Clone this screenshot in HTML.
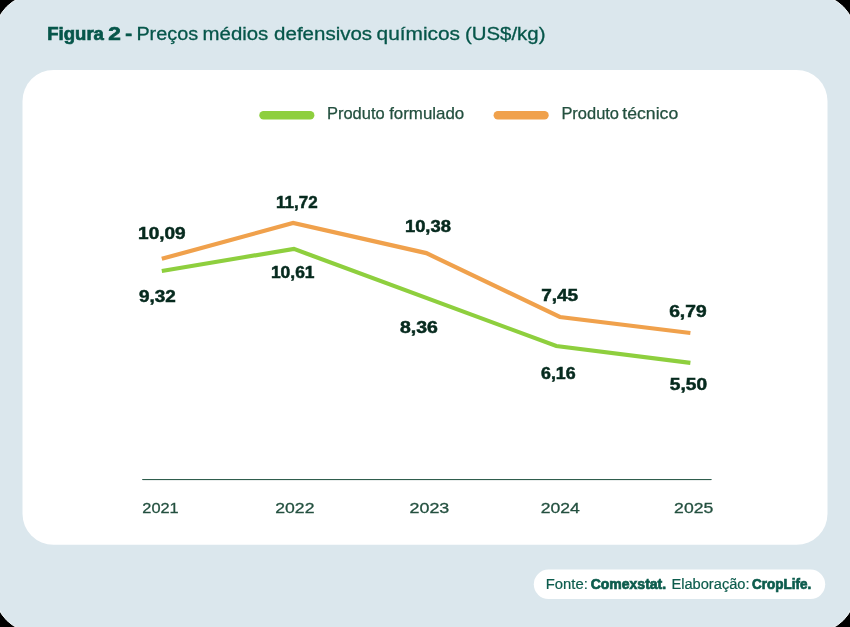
<!DOCTYPE html>
<html><head><meta charset="utf-8">
<style>
html,body{margin:0;padding:0;background:#dbe7ed;}
body{width:850px;height:627px;overflow:hidden;font-family:"Liberation Sans",sans-serif;}
svg{display:block;will-change:transform;}
text{font-family:"Liberation Sans",sans-serif;}
.v{font-weight:bold;font-size:16.4px;fill:#062a1e;stroke:#062a1e;stroke-width:0.5px;}
.y{font-size:15.5px;fill:#23503f;stroke:#23503f;stroke-width:0.3px;}
.l{font-size:15.7px;fill:#23503f;stroke:#23503f;stroke-width:0.25px;}
.t{font-size:18.8px;fill:#06564a;stroke:#06564a;stroke-width:0.3px;}
.f{font-size:14.0px;fill:#0d5c4d;stroke:#0d5c4d;stroke-width:0.2px;}
.b{font-weight:bold;}
.t.b{stroke:#06564a;stroke-width:0.7px;}
.f.b{stroke:#0d5c4d;stroke-width:0.7px;}
</style></head>
<body>
<svg width="850" height="627" viewBox="0 0 850 627">
<rect x="0" y="0" width="850" height="627" fill="#000"/>
<rect x="-5.0" y="-5.0" width="860" height="637" rx="40" ry="40" fill="#dbe7ed" stroke="#f2f7f9" stroke-width="1"/>
<rect x="22.5" y="70" width="805" height="474.8" rx="31" ry="31" fill="#ffffff"/>
<rect x="259.3" y="110.9" width="55.1" height="8.5" rx="4.25" fill="#8ecf3e"/>
<rect x="493.6" y="110.9" width="55.1" height="8.5" rx="4.25" fill="#f0a14c"/>
<polyline points="161.8,271.0 293.9,248.9 556.3,346.0 690.4,362.9" fill="none" stroke="#8ecf3e" stroke-width="4.2" stroke-linejoin="miter"/>
<polyline points="161.8,258.8 293.1,223 426.3,253.1 559.9,317.0 690.4,333.0" fill="none" stroke="#f0a14c" stroke-width="4.2" stroke-linejoin="miter"/>
<rect x="142.2" y="479" width="569.4" height="1" fill="#2f5d4d"/>
<rect x="142.6" y="480" width="568.6" height="1" fill="#2f5d4d" opacity="0.1"/>
<rect x="533.8" y="569.6" width="291.4" height="29.4" rx="14.7" fill="#ffffff"/>
<text id="t0a" class="t b" x="47.32" y="40.0" textLength="56.58" lengthAdjust="spacingAndGlyphs">Figura</text>
<text id="t0b" class="t b" x="108.38" y="40.0" textLength="12.55" lengthAdjust="spacingAndGlyphs">2</text>
<text id="t0c" class="t b" x="125.17" y="40.0" textLength="6.83" lengthAdjust="spacingAndGlyphs">-</text>
<text id="t1" class="t" x="136.41" y="40.0" textLength="61.65" lengthAdjust="spacingAndGlyphs">Preços</text>
<text id="t2" class="t" x="202.57" y="40.0" textLength="65.76" lengthAdjust="spacingAndGlyphs">médios</text>
<text id="t3" class="t" x="274.12" y="40.0" textLength="97.99" lengthAdjust="spacingAndGlyphs">defensivos</text>
<text id="t4" class="t" x="376.53" y="40.0" textLength="83.55" lengthAdjust="spacingAndGlyphs">químicos</text>
<text id="t5" class="t" x="464.93" y="40.0" textLength="80.55" lengthAdjust="spacingAndGlyphs">(US$/kg)</text>
<text id="l1" class="l" x="326.96" y="118.9" textLength="57.71" lengthAdjust="spacingAndGlyphs">Produto</text>
<text id="l1b" class="l" x="389.15" y="118.9" textLength="75.08" lengthAdjust="spacingAndGlyphs">formulado</text>
<text id="l2" class="l" x="561.40" y="118.9" textLength="57.61" lengthAdjust="spacingAndGlyphs">Produto</text>
<text id="l2b" class="l" x="622.35" y="118.9" textLength="55.86" lengthAdjust="spacingAndGlyphs">técnico</text>
<text id="v0" class="v" x="138.13" y="239.0" textLength="47.59" lengthAdjust="spacingAndGlyphs">10,09</text>
<text id="v1" class="v" x="275.98" y="208.1" textLength="41.63" lengthAdjust="spacingAndGlyphs">11,72</text>
<text id="v2" class="v" x="404.91" y="232.2" textLength="46.00" lengthAdjust="spacingAndGlyphs">10,38</text>
<text id="v3" class="v" x="541.18" y="301.1" textLength="36.92" lengthAdjust="spacingAndGlyphs">7,45</text>
<text id="v4" class="v" x="669.15" y="317.3" textLength="37.46" lengthAdjust="spacingAndGlyphs">6,79</text>
<text id="v5" class="v" x="138.91" y="301.5" textLength="36.84" lengthAdjust="spacingAndGlyphs">9,32</text>
<text id="v6" class="v" x="270.95" y="277.6" textLength="43.59" lengthAdjust="spacingAndGlyphs">10,61</text>
<text id="v7" class="v" x="399.92" y="332.7" textLength="37.88" lengthAdjust="spacingAndGlyphs">8,36</text>
<text id="v8" class="v" x="541.00" y="378.7" textLength="34.67" lengthAdjust="spacingAndGlyphs">6,16</text>
<text id="v9" class="v" x="669.89" y="390.1" textLength="37.21" lengthAdjust="spacingAndGlyphs">5,50</text>
<text id="y0" class="y" x="142.29" y="513.3" textLength="36.45" lengthAdjust="spacingAndGlyphs">2021</text>
<text id="y1" class="y" x="275.25" y="513.3" textLength="39.24" lengthAdjust="spacingAndGlyphs">2022</text>
<text id="y2" class="y" x="409.51" y="513.3" textLength="39.80" lengthAdjust="spacingAndGlyphs">2023</text>
<text id="y3" class="y" x="540.77" y="513.3" textLength="39.13" lengthAdjust="spacingAndGlyphs">2024</text>
<text id="y4" class="y" x="674.11" y="513.3" textLength="39.19" lengthAdjust="spacingAndGlyphs">2025</text>
<text id="f0" class="f" x="545.75" y="588.5" textLength="42.04" lengthAdjust="spacingAndGlyphs">Fonte:</text>
<text id="f1" class="f b" x="590.68" y="588.5" textLength="75.50" lengthAdjust="spacingAndGlyphs">Comexstat.</text>
<text id="f2" class="f" x="671.43" y="588.5" textLength="78.13" lengthAdjust="spacingAndGlyphs">Elaboração:</text>
<text id="f3" class="f b" x="752.00" y="588.5" textLength="59.16" lengthAdjust="spacingAndGlyphs">CropLife.</text>
</svg>
</body></html>
